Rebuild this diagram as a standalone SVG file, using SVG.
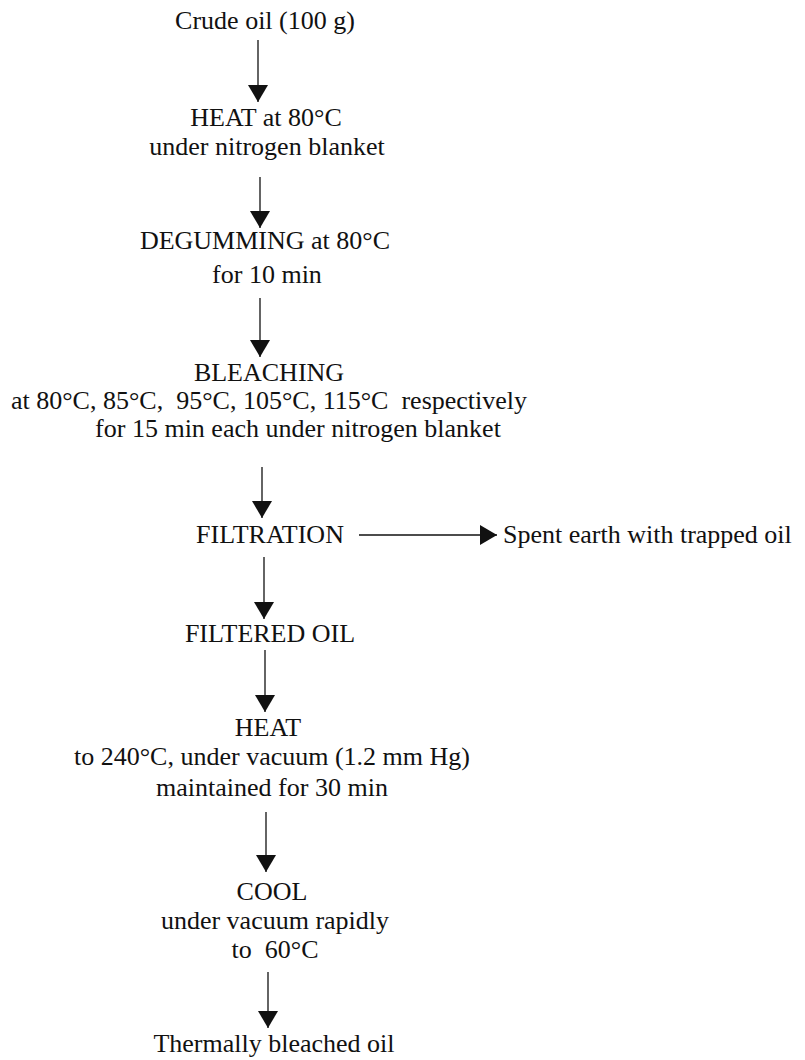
<svg xmlns="http://www.w3.org/2000/svg" width="805" height="1060" viewBox="0 0 805 1060">
<defs>
<style>
text{font-family:"Liberation Serif","Times New Roman",serif;font-size:26px;fill:#111;text-anchor:middle;white-space:pre}
.lft{text-anchor:start}
.ln{stroke:#111;stroke-width:1.3;fill:none}
</style>
<marker id="ah" viewBox="0 0 17 20" refX="17" refY="10" markerWidth="17" markerHeight="20" markerUnits="userSpaceOnUse" orient="auto">
<path d="M0,0 L17,10 L0,20 Z" fill="#111"/>
</marker>
</defs>
<rect width="805" height="1060" fill="#fff"/>
<g id="n1"><text x="265" y="29">Crude oil (100 g)</text></g>
<g id="n2"><text x="266" y="126">HEAT at 80°C</text><text x="267" y="155">under nitrogen blanket</text></g>
<g id="n3"><text x="265" y="249">DEGUMMING at 80°C</text><text x="267" y="283">for 10 min</text></g>
<g id="n4"><text x="269" y="381">BLEACHING</text><text x="269" y="409" xml:space="preserve">at 80°C, 85°C,  95°C, 105°C, 115°C  respectively</text><text x="298" y="437">for 15 min each under nitrogen blanket</text></g>
<g id="n5"><text x="270" y="543">FILTRATION</text></g>
<g id="n6"><text class="lft" x="503" y="543">Spent earth with trapped oil</text></g>
<g id="n7"><text x="270" y="642">FILTERED OIL</text></g>
<g id="n8"><text x="268" y="736">HEAT</text><text x="272" y="765">to 240°C, under vacuum (1.2 mm Hg)</text><text x="272" y="796">maintained for 30 min</text></g>
<g id="n9"><text x="272" y="900">COOL</text><text x="275" y="929">under vacuum rapidly</text><text x="275" y="958" xml:space="preserve">to  60°C</text></g>
<g id="n10"><text x="274" y="1052">Thermally bleached oil</text></g>
<g id="connectors">
<line class="ln" x1="258" y1="40" x2="258" y2="102" marker-end="url(#ah)"/>
<line class="ln" x1="260" y1="177" x2="260" y2="228" marker-end="url(#ah)"/>
<line class="ln" x1="260" y1="298" x2="260" y2="357" marker-end="url(#ah)"/>
<line class="ln" x1="262" y1="467" x2="262" y2="518" marker-end="url(#ah)"/>
<line class="ln" x1="264" y1="557" x2="264" y2="619" marker-end="url(#ah)"/>
<line class="ln" x1="265" y1="650" x2="265" y2="712" marker-end="url(#ah)"/>
<line class="ln" x1="266" y1="812" x2="266" y2="872" marker-end="url(#ah)"/>
<line class="ln" x1="268" y1="972" x2="268" y2="1028" marker-end="url(#ah)"/>
<line class="ln" x1="359" y1="535" x2="497" y2="535" marker-end="url(#ah)"/>
</g>
</svg>
